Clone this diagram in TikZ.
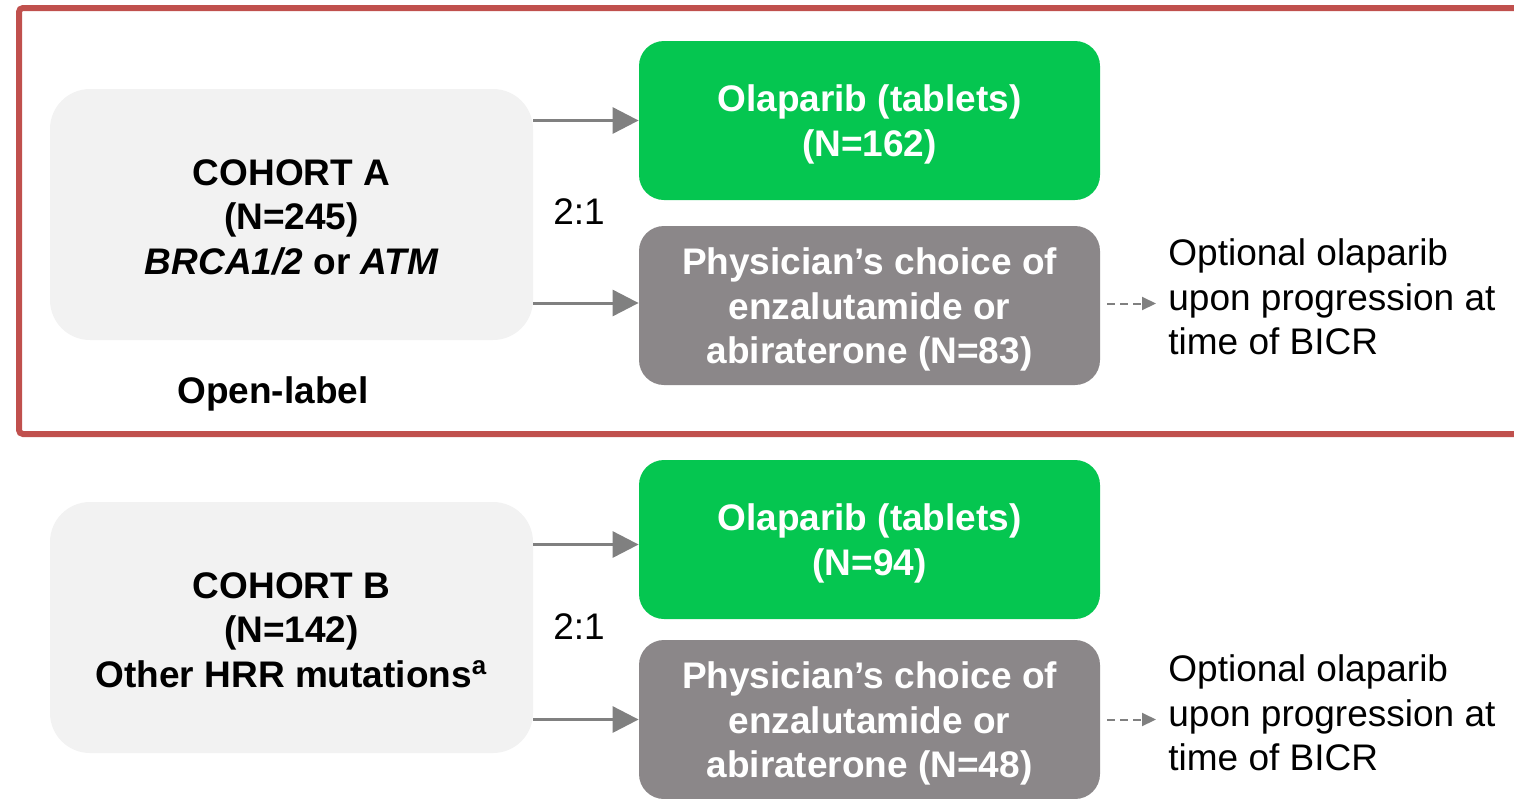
\documentclass[tikz,border=0pt]{standalone}
\usepackage{fontspec}
\setmainfont{Liberation Sans}
\usetikzlibrary{positioning,arrows.meta,calc}
\definecolor{cFrame}{HTML}{C0504D}
\definecolor{cOla}{HTML}{05C650}
\definecolor{cPhys}{HTML}{8B8789}
\definecolor{cCohort}{HTML}{F2F2F2}
\definecolor{cArrow}{HTML}{808080}
\newcommand{\boxfont}{\fontsize{18.5}{22.25}\selectfont}
\newcommand{\topstrut}[1][17.5pt]{\rule{0pt}{#1}}

\begin{document}
\begin{tikzpicture}[x=0.5pt,y=-0.5pt,
    every node/.style={font=\boxfont,align=center,inner sep=0pt},
    cohort/.style={fill=cCohort,rounded corners=20pt,minimum width=241.5pt,
                   minimum height=125.5pt,font=\boxfont\bfseries},
    arm/.style={rounded corners=12.5pt,minimum width=230.5pt,minimum height=79.5pt,
                text=white,font=\boxfont\bfseries},
    rand/.style={-{Triangle[length=13pt,width=13pt]},line width=1.5pt,draw=cArrow},
    later/.style={-{Triangle[length=7pt,width=6.5pt]},line width=1pt,draw=cArrow,
                  dash pattern=on 4pt off 2.5pt},
    opt/.style={anchor=west,align=left,inner xsep=6pt}]
    \useasboundingbox (0,0) rectangle (1514,798);
    \clip (0,0) rectangle (1514,798);

    % open-label frame round cohort A
    \draw[cFrame,line width=3pt,rounded corners=2pt] (19,8) rectangle (1540,434);

    % cohort A
    \node[cohort] (cohA) at (291.5,214.5) {\topstrut[15.8pt]COHORT A\\(N=245)\\
      {\itshape BRCA1/2} or {\itshape ATM}};
    \node[font=\boxfont\bfseries] (openlbl) at (273,394) {Open-label};
    \node[arm,fill=cOla] (olaA) at (869.5,120.5) {\topstrut Olaparib (tablets)\\(N=162)};
    \node[arm,fill=cPhys] (phyA) at (869.5,305.5) {\topstrut Physician’s choice of\\
      enzalutamide or\\abiraterone (N=83)};
    \node (ratioA) at (579,212) {2:1};
    \node[opt] (optA) at (1156,297) {Optional olaparib\\upon progression at\\time of BICR};

    % cohort B
    \node[cohort] (cohB) at (291.5,627.5) {\topstrut[15.5pt]COHORT B\\(N=142)\\
      Other HRR mutations\textsuperscript{a}};
    \node[arm,fill=cOla] (olaB) at (869.5,539.5) {\topstrut Olaparib (tablets)\\(N=94)};
    \node[arm,fill=cPhys] (phyB) at (869.5,719.5) {\topstrut Physician’s choice of\\
      enzalutamide or\\abiraterone (N=48)};
    \node (ratioB) at (579,627) {2:1};
    \node[opt] (optB) at (1156,713) {Optional olaparib\\upon progression at\\time of BICR};

    % randomisation arrows
    \draw[rand] (olaA.west -| cohA.east) -- (olaA.west);
    \draw[rand] ([yshift=1.25pt]phyA.west -| cohA.east) -- ([yshift=1.25pt]phyA.west);
    \draw[rand] ([yshift=-2.5pt]olaB.west -| cohB.east) -- ([yshift=-2.5pt]olaB.west);
    \draw[rand] (phyB.west -| cohB.east) -- (phyB.west);

    % crossover on progression
    \draw[later] ([xshift=3.5pt,yshift=1pt]phyA.east) -- ([yshift=1pt]phyA.east -| optA.west);
    \draw[later] ([xshift=3.5pt]phyB.east) -- (phyB.east -| optB.west);
  \end{tikzpicture}
\end{document}
